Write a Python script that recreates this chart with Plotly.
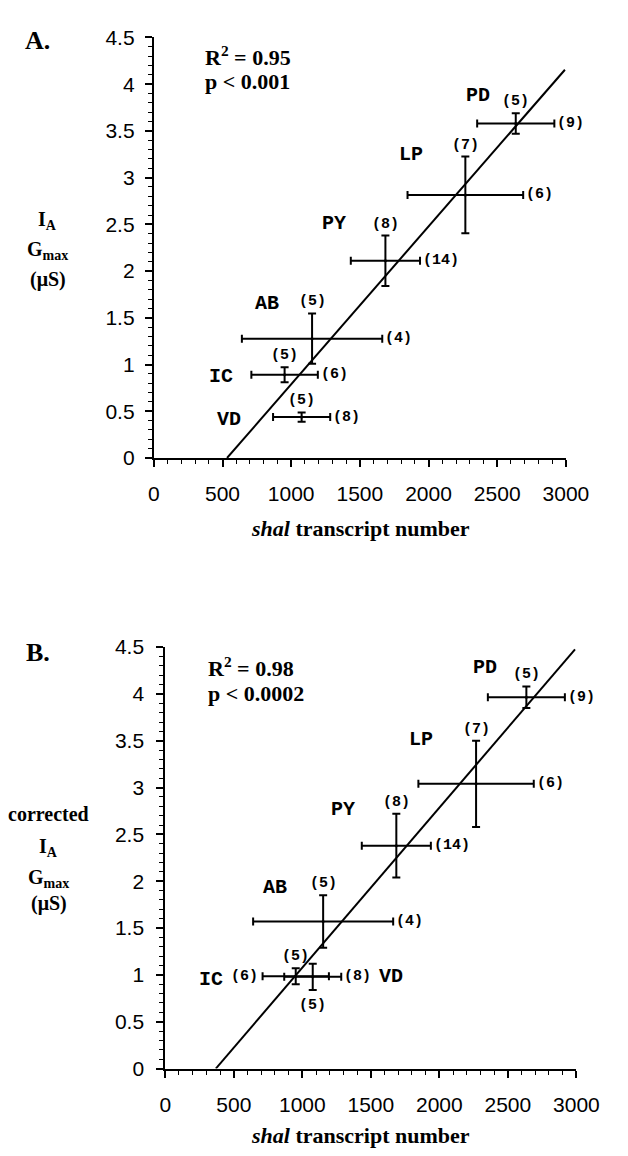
import plotly.graph_objects as go

# ---------------- data ----------------
neurons = ["PD", "LP", "PY", "AB", "IC", "VD"]
transcript_mean = [2635, 2268, 1686, 1152, 952, 1076]
transcript_sem = [281, 421, 252, 511, 242, 208]
n_transcript = [9, 6, 14, 4, 6, 8]

gmax_a_mean = [3.58, 2.815, 2.11, 1.277, 0.89, 0.437]
gmax_a_sem = [0.11, 0.41, 0.27, 0.27, 0.08, 0.05]
gmax_b_mean = [3.965, 3.04, 2.38, 1.57, 0.986, 0.98]
gmax_b_sem = [0.115, 0.46, 0.34, 0.28, 0.085, 0.14]
n_gmax = [5, 7, 8, 5, 5, 5]

fit_a_x = [533, 2993]
fit_a_y = [0, 4.155]
fit_b_x = [369, 2990]
fit_b_y = [0, 4.476]

stats_a = ["R<sup>2</sup> = 0.95", "p < 0.001"]
stats_b = ["R<sup>2</sup> = 0.98", "p < 0.0002"]

x_tick_vals = [0, 500, 1000, 1500, 2000, 2500, 3000]
y_tick_vals = [0, 0.5, 1, 1.5, 2, 2.5, 3, 3.5, 4, 4.5]

# ---------------- layout constants ----------------
W, H = 628, 1156
SERIF = "Liberation Serif"
MONO = "Liberation Mono"
SANS = "Liberation Sans"

# name label pixel offsets (dx right, dy up) from each point
name_off_a = {"PD": (-38, 28), "LP": (-54, 40), "PY": (-51, 37), "AB": (-45, 35), "IC": (-64, -2), "VD": (-73, -2)}
name_off_b = {"PD": (-41, 30), "LP": (-55, 44), "PY": (-53, 36), "AB": (-48, 34), "IC": (-85, -3), "VD": (78, 0)}
# placement of the n for gmax (top/bottom) and n for transcript (right/left)
gcount_side_a = {k: "top" for k in neurons}
tcount_side_a = {k: "right" for k in neurons}
gcount_side_b = dict(gcount_side_a, VD="bottom")
tcount_side_b = dict(tcount_side_a, IC="left")

fig = go.Figure()


def add_panel(xa, ya, gmean, gsem, fitx, fity, name_off, gside, tside):
    fig.add_trace(go.Scatter(
        x=fitx, y=fity, mode="lines", line=dict(color="black", width=2),
        xaxis=xa, yaxis=ya, showlegend=False, hoverinfo="skip"))
    fig.add_trace(go.Scatter(
        x=transcript_mean, y=gmean, mode="markers",
        marker=dict(color="black", size=3),
        error_x=dict(type="data", array=transcript_sem, visible=True,
                     color="black", thickness=2, width=4),
        error_y=dict(type="data", array=gsem, visible=True,
                     color="black", thickness=2, width=4),
        xaxis=xa, yaxis=ya, showlegend=False))
    for i, nm in enumerate(neurons):
        dx, dy = name_off[nm]
        fig.add_annotation(x=transcript_mean[i], y=gmean[i], xref=xa, yref=ya,
                           text="<b>%s</b>" % nm, showarrow=False,
                           xshift=dx, yshift=dy, xanchor="center", yanchor="middle",
                           font=dict(family=MONO, size=20, color="black"))
        # n for gmax
        if gside[nm] == "top":
            fig.add_annotation(x=transcript_mean[i], y=gmean[i] + gsem[i], xref=xa, yref=ya,
                               text="<b>(%d)</b>" % n_gmax[i], showarrow=False,
                               yanchor="bottom", xanchor="center", yshift=1,
                               font=dict(family=MONO, size=15, color="black"))
        else:
            fig.add_annotation(x=transcript_mean[i], y=gmean[i] - gsem[i], xref=xa, yref=ya,
                               text="<b>(%d)</b>" % n_gmax[i], showarrow=False,
                               yanchor="top", xanchor="center", yshift=-5,
                               font=dict(family=MONO, size=15, color="black"))
        # n for transcript
        if tside[nm] == "right":
            fig.add_annotation(x=transcript_mean[i] + transcript_sem[i], y=gmean[i], xref=xa, yref=ya,
                               text="<b>(%d)</b>" % n_transcript[i], showarrow=False,
                               xanchor="left", yanchor="middle", xshift=1,
                               font=dict(family=MONO, size=15, color="black"))
        else:
            fig.add_annotation(x=transcript_mean[i] - transcript_sem[i], y=gmean[i], xref=xa, yref=ya,
                               text="<b>(%d)</b>" % n_transcript[i], showarrow=False,
                               xanchor="right", yanchor="middle", xshift=-3,
                               font=dict(family=MONO, size=15, color="black"))


add_panel("x", "y", gmax_a_mean, gmax_a_sem, fit_a_x, fit_a_y, name_off_a, gcount_side_a, tcount_side_a)
add_panel("x2", "y2", gmax_b_mean, gmax_b_sem, fit_b_x, fit_b_y, name_off_b, gcount_side_b, tcount_side_b)

axis_common = dict(showline=True, linecolor="black", linewidth=2, mirror=False,
                   ticks="outside", ticklen=7, tickwidth=1.5, tickcolor="black",
                   showgrid=False, zeroline=False,
                   tickfont=dict(family=SANS, size=21, color="black"))
minor_x = dict(ticks="outside", ticklen=4, tickwidth=1, tickcolor="black", dtick=100)
minor_y = dict(ticks="outside", ticklen=4, tickwidth=1, tickcolor="black", dtick=0.1)

fig.update_layout(
    width=W, height=H, margin=dict(l=0, r=0, t=0, b=0),
    paper_bgcolor="white", plot_bgcolor="white", showlegend=False,
    xaxis=dict(axis_common, domain=[155 / W, 587 / W], anchor="y", range=[0, 3000],
               tickvals=x_tick_vals, ticklabelstandoff=9, minor=minor_x),
    yaxis=dict(axis_common, domain=[1 - 455 / H, 1 - 26 / H], anchor="x", range=[0, 4.5],
               tickvals=y_tick_vals, ticklabelstandoff=6, minor=minor_y),
    xaxis2=dict(axis_common, domain=[167 / W, 598 / W], anchor="y2", range=[0, 3000],
                tickvals=x_tick_vals, ticklabelstandoff=9, minor=minor_x),
    yaxis2=dict(axis_common, domain=[1 - 1078 / H, 1 - 648 / H], anchor="x2", range=[0, 4.5],
                tickvals=y_tick_vals, ticklabelstandoff=8, minor=minor_y),
)


def paper_text(text, px, py, size, family=SERIF, xanchor="center", yanchor="middle"):
    fig.add_annotation(x=px / W, y=1 - py / H, xref="paper", yref="paper", text=text,
                       showarrow=False, xanchor=xanchor, yanchor=yanchor,
                       font=dict(family=family, size=size, color="black"))


# panel letters
paper_text("<b>A.</b>", 33, 29, 26)
paper_text("<b>B.</b>", 34, 653, 26)

# stats text
paper_text("<b>%s</b>" % stats_a[0], 207, 45, 22, xanchor="left")
paper_text("<b>%s</b>" % stats_a[1], 207, 71, 22, xanchor="left")
paper_text("<b>%s</b>" % stats_b[0], 210, 668, 22, xanchor="left")
paper_text("<b>%s</b>" % stats_b[1], 210, 695, 22, xanchor="left")

# x-axis titles
paper_text("<b><i>shal</i> transcript number</b>", 372, 527, 22)
paper_text("<b><i>shal</i> transcript number</b>", 372, 1146, 22)

# y-axis titles
paper_text("<b>I<sub>A</sub></b>", 43, 213, 20)
paper_text("<b>G<sub>max</sub></b>", 44, 243, 20)
paper_text("<b>(\u03bcS)</b>", 44, 273, 20)

paper_text("<b>corrected</b>", 45, 818, 20)
paper_text("<b>I<sub>A</sub></b>", 45, 852, 20)
paper_text("<b>G<sub>max</sub></b>", 45, 884, 20)
paper_text("<b>(\u03bcS)</b>", 45, 910, 20)

fig.write_html("out.html")
